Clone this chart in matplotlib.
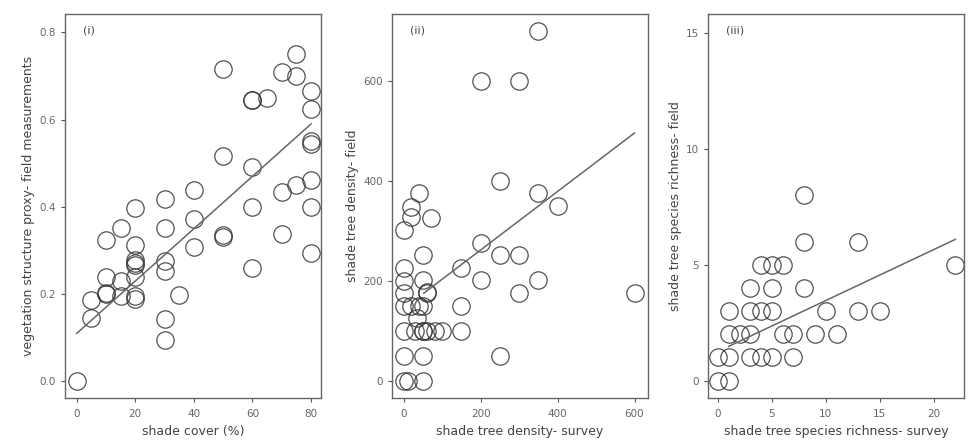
import numpy as np
import matplotlib
matplotlib.use("Agg")
import matplotlib.pyplot as plt

# (i) shade cover vs vegetation structure proxy
shade_cover = [0, 50, 75, 70, 75, 80, 80, 60, 60, 65, 80, 80, 50, 60, 80, 75, 70, 80, 60,
               40, 40, 40, 50, 50, 70, 80, 60, 30, 30, 30, 30, 35, 30, 30,
               20, 20, 20, 20, 20, 20, 20, 20, 15, 15, 15, 10, 10, 10, 10, 5, 5]
veg_proxy = [0.0, 0.715, 0.75, 0.71, 0.70, 0.665, 0.625, 0.645, 0.645, 0.65, 0.55, 0.545, 0.517, 0.492, 0.462, 0.45, 0.433, 0.40, 0.40,
             0.439, 0.372, 0.308, 0.336, 0.33, 0.338, 0.295, 0.26, 0.418, 0.351, 0.275, 0.252, 0.197, 0.143, 0.094,
             0.397, 0.313, 0.279, 0.272, 0.267, 0.24, 0.195, 0.19, 0.351, 0.23, 0.195, 0.323, 0.239, 0.202, 0.20, 0.187, 0.145]

# (ii) shade tree density survey vs field
density_survey = [350, 200, 300, 250, 350, 400, 40, 20, 20, 70, 0, 200, 50, 250, 300, 150, 0, 0, 50, 200, 350,
                  60, 60, 0, 300, 600, 150, 0, 20, 40, 50, 35,
                  0, 30, 50, 50, 60, 80, 100, 150, 0, 50, 250, 0, 10, 50]
density_field = [700, 600, 600, 400, 376, 351, 376, 348, 328, 326, 303, 276, 253, 253, 253, 226, 226, 200, 203, 202, 202,
                 176, 178, 176, 176, 176, 151, 151, 150, 150, 150, 126,
                 100, 100, 100, 100, 100, 100, 100, 100, 51, 51, 51, 0, 0, 0]

# (iii) shade tree species richness survey vs field
richness_survey = [8, 8, 13, 22, 4, 5, 6, 3, 5, 8, 1, 3, 4, 5, 10, 13, 15,
                   1, 2, 3, 6, 7, 9, 11, 0, 1, 3, 4, 5, 7, 0, 1]
richness_field = [8, 6, 6, 5, 5, 5, 5, 4, 4, 4, 3, 3, 3, 3, 3, 3, 3,
                  2, 2, 2, 2, 2, 2, 2, 1, 1, 1, 1, 1, 1, 0, 0]

# fitted lines: intercept, slope, x range
fit_i = (0.11, 0.006, 0, 80)
fit_ii = (146, 0.584, 52, 600)
fit_iii = (1.26, 0.22, 1, 22)

panels = [
    dict(x=shade_cover, y=veg_proxy, fit=fit_i, tag="(i)",
         xlabel="shade cover (%)", ylabel="vegetation structure proxy- field measurements",
         xlim=(-4, 83.4), ylim=(-0.038, 0.842), xticks=[0, 20, 40, 60, 80],
         yticks=[0.0, 0.2, 0.4, 0.6, 0.8], yfmt="{:.1f}", left=65),
    dict(x=density_survey, y=density_field, fit=fit_ii, tag="(ii)",
         xlabel="shade tree density- survey", ylabel="shade tree density- field",
         xlim=(-30.7, 635), ylim=(-33, 734), xticks=[0, 200, 400, 600],
         yticks=[0, 200, 400, 600], yfmt="{:d}", left=392),
    dict(x=richness_survey, y=richness_field, fit=fit_iii, tag="(iii)",
         xlabel="shade tree species richness- survey", ylabel="shade tree species richness- field",
         xlim=(-0.92, 22.8), ylim=(-0.75, 15.83), xticks=[0, 5, 10, 15, 20],
         yticks=[0, 5, 10, 15], yfmt="{:d}", left=708),
]

W, H = 973, 445
fig = plt.figure(figsize=(W / 100, H / 100), dpi=100)
grey = "#555555"

for p in panels:
    ax = fig.add_axes([p["left"] / W, 1 - 398 / H, 256 / W, 384 / H])
    ax.plot(p["x"], p["y"], "o", ms=12.5, mfc="none", mec="#333333", mew=0.9, alpha=0.85)
    a, b, x0, x1 = p["fit"]
    xs = np.array([x0, x1])
    ax.plot(xs, a + b * xs, color="#666666", lw=1.1)
    ax.set_xlim(*p["xlim"])
    ax.set_ylim(*p["ylim"])
    ax.set_xticks(p["xticks"])
    ax.set_yticks(p["yticks"])
    ax.set_yticklabels([p["yfmt"].format(v) for v in p["yticks"]])
    ax.tick_params(labelsize=7.5, colors=grey, length=3, width=0.8, labelcolor="#666666")
    ax.tick_params(axis="x", pad=5)
    ax.set_xlabel(p["xlabel"], fontsize=9, color="#444444", labelpad=4)
    ax.set_ylabel(p["ylabel"], fontsize=9, color="#444444", labelpad=3)
    for s in ax.spines.values():
        s.set_color("#666666")
        s.set_linewidth(1.0)
    ax.text(0.07, 0.97, p["tag"], transform=ax.transAxes, fontsize=8, color="#444444",
            va="top", ha="left")

fig.savefig("out.png", dpi=100)
